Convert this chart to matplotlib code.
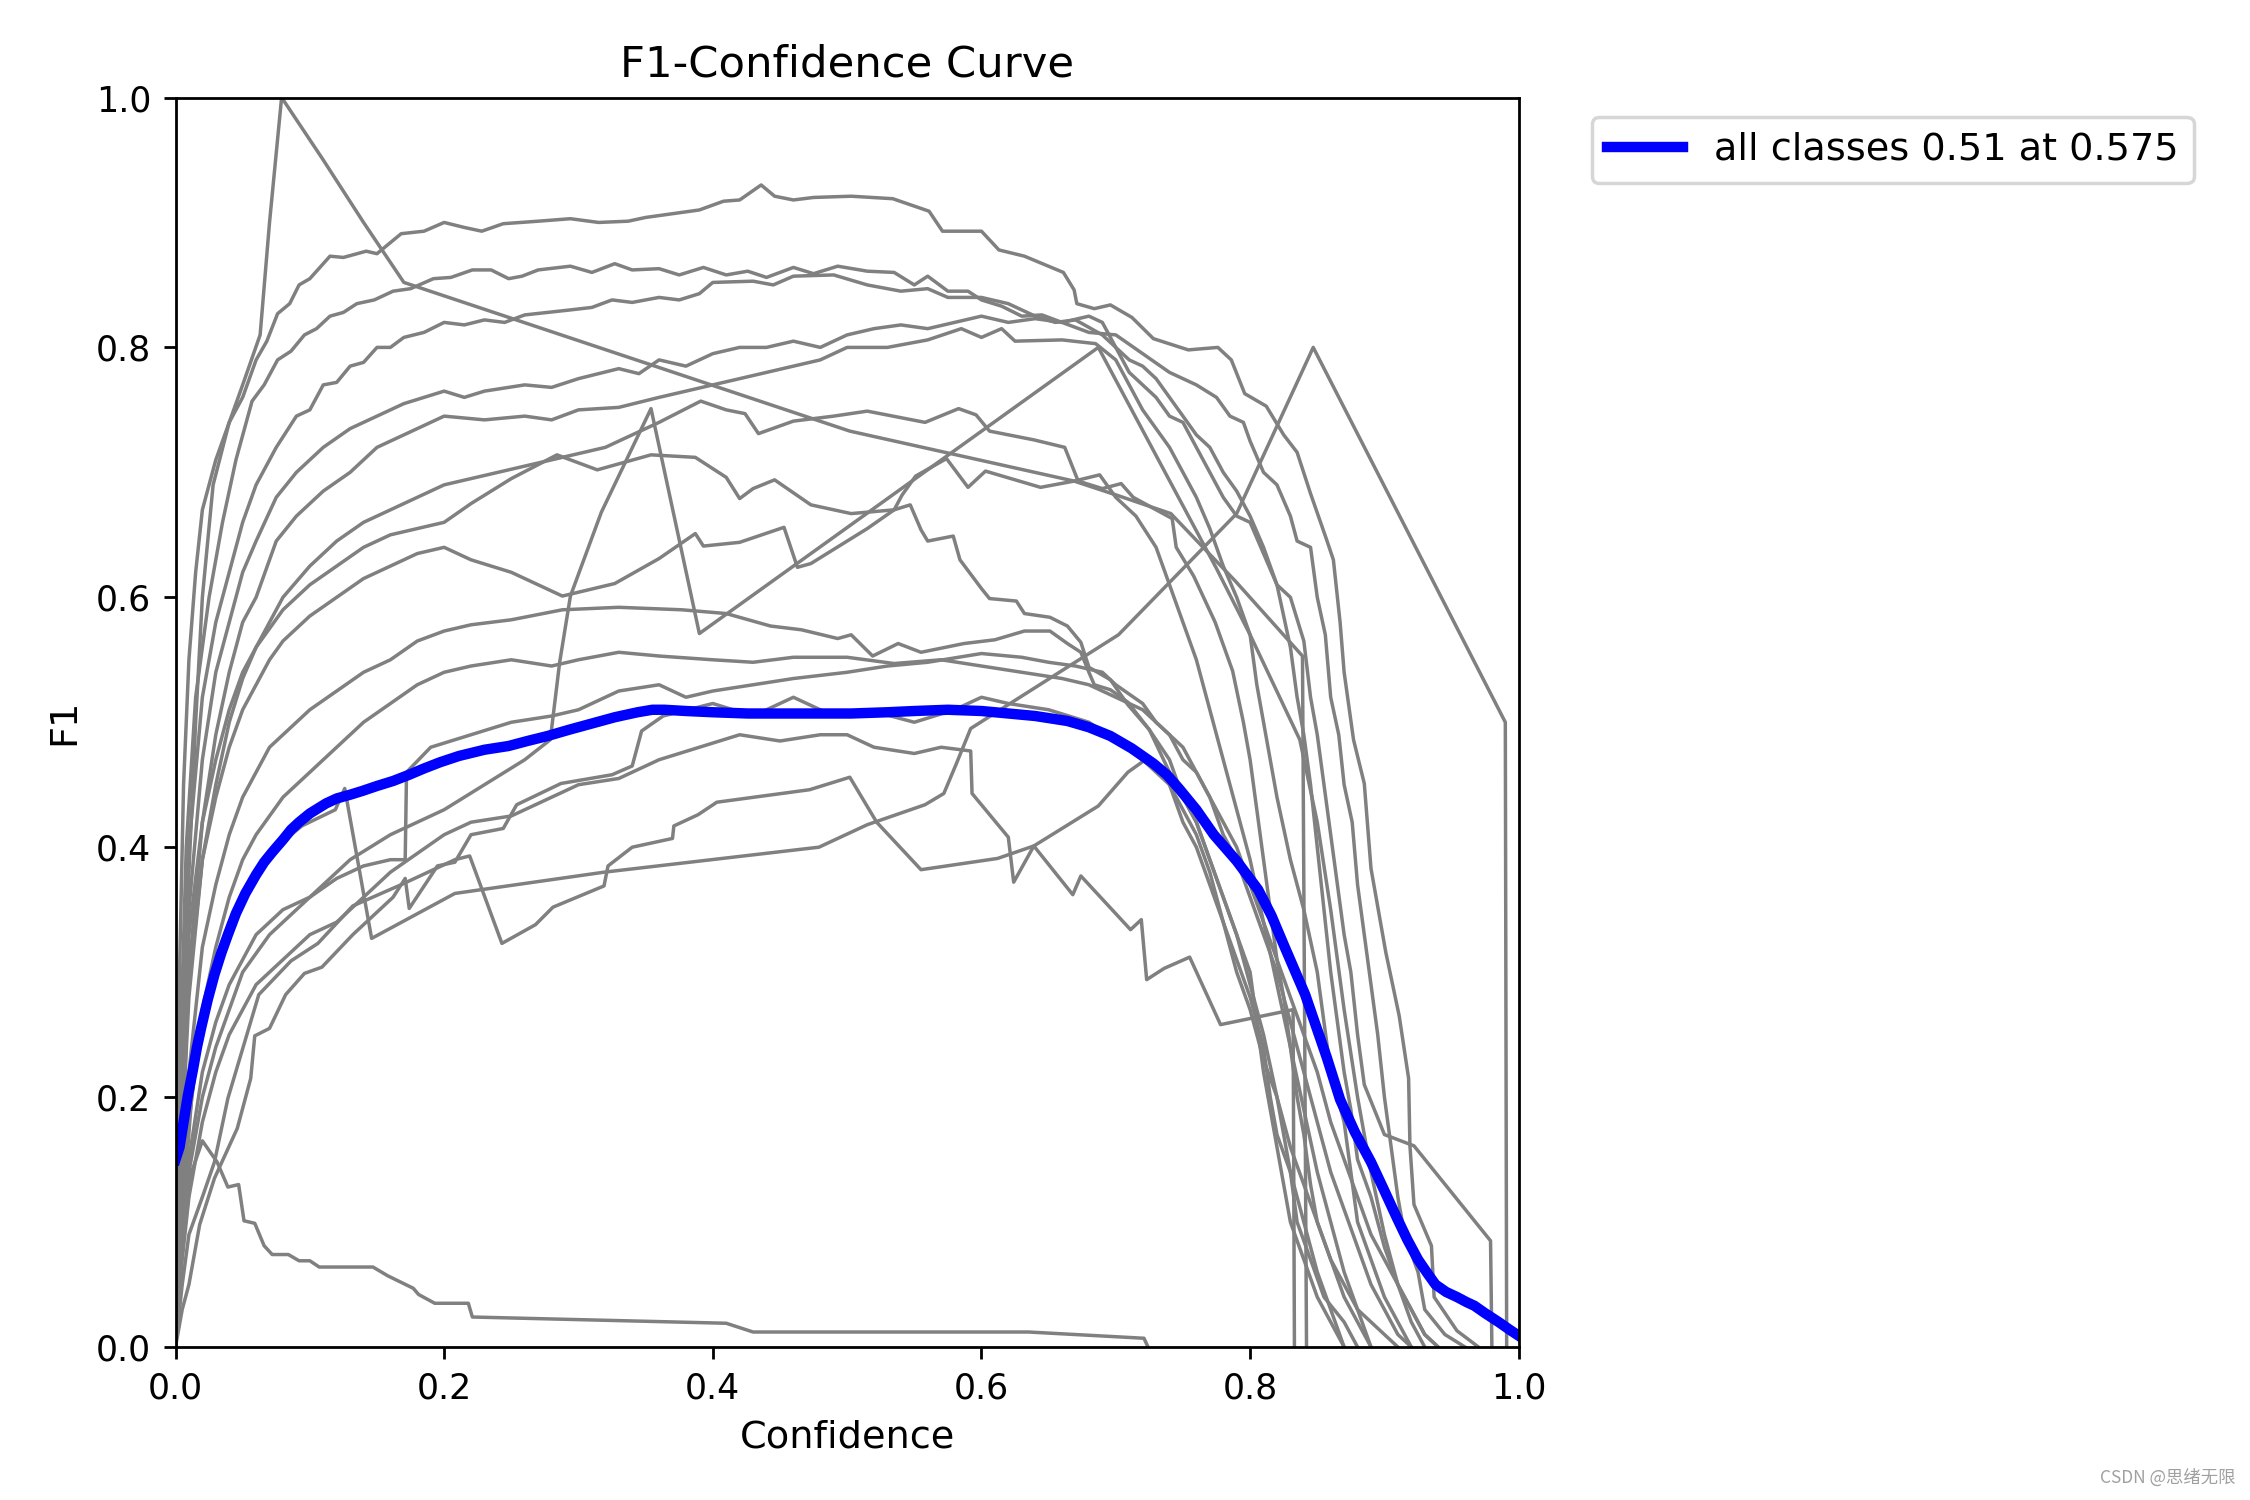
import matplotlib
matplotlib.use("Agg")
import matplotlib.pyplot as plt

# per-class F1 curves, as (confidence, F1) pairs
cls_a = [(0, 0), (0.003, 0.3), (0.006, 0.45), (0.01, 0.55), (0.015, 0.62), (0.02, 0.67), (0.03, 0.71),
         (0.04, 0.74), (0.05, 0.76), (0.06, 0.79), (0.068, 0.805), (0.076, 0.827), (0.085, 0.835),
         (0.092, 0.85), (0.1, 0.855), (0.115, 0.873), (0.125, 0.872), (0.142, 0.877), (0.15, 0.875),
         (0.168, 0.891), (0.185, 0.893), (0.2, 0.9), (0.215, 0.896), (0.228, 0.893), (0.244, 0.899),
         (0.27, 0.901), (0.294, 0.903), (0.315, 0.9), (0.337, 0.901), (0.35, 0.904), (0.37, 0.907),
         (0.39, 0.91), (0.408, 0.917), (0.42, 0.918), (0.436, 0.93), (0.446, 0.921), (0.46, 0.918),
         (0.475, 0.92), (0.503, 0.921), (0.534, 0.919), (0.561, 0.909), (0.571, 0.893), (0.6, 0.893),
         (0.613, 0.878), (0.632, 0.873), (0.661, 0.86), (0.669, 0.846), (0.671, 0.835), (0.684, 0.831),
         (0.696, 0.834), (0.712, 0.824), (0.728, 0.807), (0.754, 0.798), (0.776, 0.8), (0.786, 0.79),
         (0.796, 0.763), (0.812, 0.753), (0.825, 0.73), (0.835, 0.716), (0.845, 0.683), (0.857, 0.646),
         (0.862, 0.63), (0.867, 0.58), (0.87, 0.54), (0.877, 0.486), (0.885, 0.451), (0.89, 0.383),
         (0.901, 0.316), (0.911, 0.265), (0.918, 0.215), (0.919, 0.161), (0.922, 0.114), (0.935, 0.081),
         (0.937, 0.04), (0.954, 0.013), (0.97, 0.0)]
cls_b = [(0, 0), (0.004, 0.25), (0.008, 0.4), (0.015, 0.52), (0.025, 0.6), (0.035, 0.66), (0.045, 0.71),
         (0.057, 0.757), (0.066, 0.77), (0.076, 0.79), (0.086, 0.797), (0.096, 0.81), (0.105, 0.815),
         (0.115, 0.825), (0.125, 0.828), (0.135, 0.835), (0.148, 0.838), (0.162, 0.845), (0.175, 0.847),
         (0.192, 0.855), (0.205, 0.856), (0.221, 0.862), (0.235, 0.862), (0.248, 0.855), (0.258, 0.857),
         (0.27, 0.862), (0.294, 0.865), (0.31, 0.86), (0.327, 0.867), (0.34, 0.862), (0.36, 0.863),
         (0.375, 0.858), (0.393, 0.864), (0.41, 0.858), (0.426, 0.861), (0.44, 0.856), (0.46, 0.864),
         (0.475, 0.859), (0.493, 0.865), (0.515, 0.861), (0.535, 0.86), (0.55, 0.85), (0.56, 0.857),
         (0.575, 0.845), (0.59, 0.845), (0.6, 0.838), (0.615, 0.833), (0.63, 0.825), (0.645, 0.826),
         (0.66, 0.82), (0.68, 0.812), (0.7, 0.81), (0.72, 0.795), (0.74, 0.78), (0.76, 0.77),
         (0.775, 0.76), (0.785, 0.745), (0.795, 0.74), (0.8, 0.725), (0.81, 0.7), (0.82, 0.69),
         (0.83, 0.665), (0.835, 0.645), (0.845, 0.64), (0.85, 0.6), (0.856, 0.57), (0.86, 0.52),
         (0.866, 0.49), (0.87, 0.45), (0.876, 0.42), (0.88, 0.37), (0.885, 0.33), (0.89, 0.29),
         (0.895, 0.25), (0.9, 0.2), (0.905, 0.16), (0.91, 0.12), (0.915, 0.09), (0.925, 0.06),
         (0.93, 0.03), (0.945, 0.01), (0.96, 0)]
cls_c = [(0, 0), (0.004, 0.22), (0.01, 0.4), (0.02, 0.52), (0.03, 0.58), (0.04, 0.62), (0.05, 0.66),
         (0.06, 0.69), (0.075, 0.72), (0.09, 0.745), (0.1, 0.75), (0.11, 0.77), (0.12, 0.772),
         (0.13, 0.785), (0.14, 0.788), (0.15, 0.8), (0.16, 0.8), (0.17, 0.808), (0.185, 0.812),
         (0.2, 0.82), (0.215, 0.818), (0.23, 0.822), (0.245, 0.82), (0.26, 0.826), (0.294, 0.83),
         (0.31, 0.832), (0.325, 0.838), (0.34, 0.836), (0.36, 0.84), (0.375, 0.838), (0.39, 0.843),
         (0.4, 0.852), (0.43, 0.853), (0.445, 0.85), (0.46, 0.857), (0.49, 0.858), (0.515, 0.85),
         (0.54, 0.845), (0.56, 0.847), (0.575, 0.84), (0.6, 0.84), (0.62, 0.835), (0.64, 0.825),
         (0.655, 0.82), (0.67, 0.822), (0.69, 0.81), (0.7, 0.8), (0.71, 0.78), (0.72, 0.77),
         (0.73, 0.76), (0.74, 0.745), (0.75, 0.74), (0.76, 0.72), (0.77, 0.7), (0.78, 0.68),
         (0.79, 0.665), (0.8, 0.66), (0.81, 0.635), (0.82, 0.61), (0.83, 0.6), (0.84, 0.565),
         (0.845, 0.52), (0.85, 0.49), (0.855, 0.45), (0.86, 0.41), (0.865, 0.37), (0.87, 0.33),
         (0.875, 0.3), (0.88, 0.25), (0.885, 0.21), (0.9, 0.17), (0.922, 0.161), (0.979, 0.085),
         (0.98, 0.0)]
cls_d = [(0, 0), (0.004, 0.18), (0.01, 0.35), (0.02, 0.47), (0.03, 0.54), (0.04, 0.58), (0.05, 0.62),
         (0.06, 0.645), (0.075, 0.68), (0.09, 0.7), (0.11, 0.72), (0.13, 0.735), (0.15, 0.745),
         (0.17, 0.755), (0.2, 0.765), (0.215, 0.76), (0.23, 0.765), (0.26, 0.77), (0.28, 0.768),
         (0.3, 0.775), (0.33, 0.783), (0.345, 0.779), (0.36, 0.79), (0.38, 0.785), (0.4, 0.795),
         (0.42, 0.8), (0.44, 0.8), (0.46, 0.805), (0.48, 0.8), (0.5, 0.81), (0.52, 0.815),
         (0.54, 0.818), (0.56, 0.815), (0.58, 0.82), (0.6, 0.825), (0.62, 0.82), (0.64, 0.823),
         (0.66, 0.82), (0.68, 0.825), (0.69, 0.82), (0.7, 0.8), (0.71, 0.79), (0.72, 0.785),
         (0.73, 0.775), (0.74, 0.76), (0.75, 0.745), (0.76, 0.73), (0.77, 0.72), (0.78, 0.7),
         (0.79, 0.685), (0.8, 0.665), (0.81, 0.64), (0.82, 0.61), (0.83, 0.56), (0.835, 0.52),
         (0.84, 0.49), (0.845, 0.45), (0.85, 0.4), (0.855, 0.35), (0.86, 0.3), (0.865, 0.26),
         (0.87, 0.22), (0.875, 0.19), (0.88, 0.15), (0.89, 0.12), (0.9, 0.08), (0.91, 0.05),
         (0.92, 0.03), (0.93, 0.01), (0.94, 0)]
cls_e = [(0, 0), (0.004, 0.14), (0.01, 0.3), (0.02, 0.42), (0.03, 0.49), (0.04, 0.54), (0.05, 0.58),
         (0.06, 0.6), (0.075, 0.645), (0.09, 0.665), (0.11, 0.685), (0.13, 0.7), (0.15, 0.72),
         (0.17, 0.73), (0.2, 0.745), (0.23, 0.742), (0.26, 0.745), (0.28, 0.742), (0.3, 0.75),
         (0.33, 0.752), (0.36, 0.76), (0.38, 0.765), (0.4, 0.77), (0.42, 0.775), (0.44, 0.78),
         (0.46, 0.785), (0.48, 0.79), (0.5, 0.8), (0.53, 0.8), (0.56, 0.806), (0.585, 0.815),
         (0.6, 0.808), (0.615, 0.815), (0.625, 0.805), (0.66, 0.806), (0.685, 0.803), (0.7, 0.79),
         (0.71, 0.77), (0.72, 0.75), (0.73, 0.735), (0.74, 0.72), (0.75, 0.7), (0.76, 0.68),
         (0.77, 0.655), (0.78, 0.625), (0.79, 0.6), (0.8, 0.57), (0.805, 0.53), (0.81, 0.5),
         (0.815, 0.47), (0.82, 0.44), (0.83, 0.39), (0.84, 0.35), (0.85, 0.3), (0.855, 0.26),
         (0.86, 0.22), (0.87, 0.18), (0.875, 0.14), (0.88, 0.1), (0.89, 0.07), (0.9, 0.04),
         (0.91, 0.02), (0.92, 0)]
cls_spike = [(0, 0), (0.005, 0.2), (0.01, 0.38), (0.015, 0.5), (0.02, 0.6), (0.028, 0.69), (0.04, 0.74),
             (0.05, 0.77), (0.063, 0.81), (0.07, 0.9), (0.079, 1.0), (0.11, 0.95), (0.14, 0.9),
             (0.17, 0.852), (0.502, 0.733), (0.669, 0.693), (0.7, 0.682), (0.741, 0.667),
             (0.789, 0.613), (0.839, 0.553), (0.842, 0.0)]
cls_f = [(0, 0), (0.004, 0.15), (0.01, 0.28), (0.02, 0.39), (0.03, 0.45), (0.04, 0.5), (0.05, 0.535),
         (0.06, 0.56), (0.07, 0.58), (0.08, 0.6), (0.1, 0.625), (0.12, 0.645), (0.14, 0.66),
         (0.16, 0.67), (0.18, 0.68), (0.2, 0.69), (0.22, 0.695), (0.24, 0.7), (0.26, 0.705),
         (0.28, 0.71), (0.3, 0.715), (0.32, 0.72), (0.34, 0.73), (0.36, 0.74), (0.391, 0.757),
         (0.41, 0.75), (0.424, 0.747), (0.434, 0.731), (0.46, 0.741), (0.49, 0.745), (0.515, 0.749),
         (0.558, 0.74), (0.583, 0.751), (0.596, 0.746), (0.606, 0.733), (0.639, 0.726),
         (0.662, 0.72), (0.672, 0.693), (0.69, 0.687), (0.704, 0.691), (0.713, 0.68), (0.742, 0.663),
         (0.745, 0.64), (0.758, 0.617), (0.774, 0.58), (0.787, 0.541), (0.795, 0.5), (0.8, 0.47),
         (0.805, 0.43), (0.81, 0.39), (0.815, 0.35), (0.82, 0.31), (0.825, 0.28), (0.83, 0.24),
         (0.835, 0.2), (0.84, 0.17), (0.845, 0.13), (0.85, 0.1), (0.86, 0.07), (0.87, 0.04),
         (0.88, 0.02), (0.89, 0)]
cls_g = [(0, 0), (0.004, 0.2), (0.01, 0.33), (0.02, 0.42), (0.03, 0.47), (0.04, 0.51), (0.05, 0.54),
         (0.06, 0.56), (0.07, 0.575), (0.08, 0.59), (0.1, 0.61), (0.12, 0.625), (0.14, 0.64),
         (0.16, 0.65), (0.18, 0.655), (0.2, 0.66), (0.22, 0.675), (0.25, 0.695), (0.284, 0.714),
         (0.314, 0.702), (0.354, 0.714), (0.387, 0.712), (0.41, 0.696), (0.42, 0.679), (0.43, 0.687),
         (0.446, 0.694), (0.473, 0.674), (0.503, 0.667), (0.535, 0.67), (0.547, 0.674), (0.555, 0.654),
         (0.56, 0.645), (0.579, 0.649), (0.584, 0.63), (0.6, 0.607), (0.606, 0.599), (0.626, 0.597),
         (0.632, 0.587), (0.651, 0.584), (0.664, 0.577), (0.674, 0.564), (0.68, 0.544), (0.696, 0.534),
         (0.709, 0.514), (0.725, 0.494), (0.74, 0.46), (0.76, 0.42), (0.77, 0.39), (0.78, 0.36),
         (0.79, 0.33), (0.8, 0.29), (0.81, 0.25), (0.82, 0.2), (0.825, 0.17), (0.83, 0.14),
         (0.84, 0.1), (0.85, 0.06), (0.86, 0.03), (0.87, 0)]
cls_k = [(0, 0), (0.004, 0.17), (0.01, 0.29), (0.02, 0.39), (0.03, 0.44), (0.04, 0.48), (0.05, 0.51),
         (0.06, 0.53), (0.07, 0.55), (0.08, 0.565), (0.1, 0.585), (0.12, 0.6), (0.14, 0.615),
         (0.16, 0.625), (0.18, 0.635), (0.2, 0.64), (0.22, 0.63), (0.25, 0.62), (0.288, 0.601),
         (0.327, 0.611), (0.36, 0.631), (0.387, 0.651), (0.393, 0.641), (0.42, 0.644), (0.453, 0.656),
         (0.463, 0.624), (0.473, 0.627), (0.515, 0.655), (0.535, 0.67), (0.541, 0.682), (0.551, 0.697),
         (0.574, 0.711), (0.59, 0.688), (0.603, 0.701), (0.644, 0.688), (0.669, 0.693), (0.688, 0.698),
         (0.7, 0.68), (0.715, 0.665), (0.73, 0.64), (0.74, 0.61), (0.75, 0.58), (0.76, 0.55),
         (0.77, 0.51), (0.78, 0.47), (0.79, 0.43), (0.8, 0.39), (0.81, 0.34), (0.82, 0.29),
         (0.83, 0.24), (0.84, 0.19), (0.85, 0.14), (0.86, 0.1), (0.87, 0.06), (0.88, 0.03), (0.89, 0)]
cls_i = [(0, 0), (0.004, 0.12), (0.01, 0.22), (0.02, 0.32), (0.03, 0.37), (0.04, 0.41), (0.05, 0.44),
         (0.06, 0.46), (0.07, 0.48), (0.08, 0.49), (0.1, 0.51), (0.12, 0.525), (0.14, 0.54),
         (0.16, 0.55), (0.18, 0.565), (0.2, 0.573), (0.22, 0.578), (0.25, 0.582), (0.288, 0.59),
         (0.33, 0.592), (0.377, 0.59), (0.41, 0.587), (0.443, 0.577), (0.466, 0.574), (0.493, 0.567),
         (0.503, 0.57), (0.519, 0.553), (0.538, 0.563), (0.555, 0.556), (0.587, 0.563), (0.61, 0.566),
         (0.632, 0.573), (0.651, 0.573), (0.664, 0.563), (0.674, 0.556), (0.68, 0.54), (0.684, 0.53),
         (0.696, 0.526), (0.709, 0.516), (0.725, 0.494), (0.74, 0.47), (0.75, 0.44), (0.76, 0.42),
         (0.77, 0.39), (0.78, 0.36), (0.79, 0.33), (0.8, 0.3), (0.805, 0.26), (0.81, 0.22),
         (0.815, 0.19), (0.82, 0.16), (0.825, 0.13), (0.83, 0.1), (0.84, 0.07), (0.85, 0.04),
         (0.86, 0.02), (0.87, 0)]
cls_j = [(0, 0), (0.004, 0.1), (0.01, 0.18), (0.02, 0.27), (0.03, 0.32), (0.04, 0.36), (0.05, 0.39),
         (0.06, 0.41), (0.08, 0.44), (0.1, 0.46), (0.12, 0.48), (0.14, 0.5), (0.16, 0.515),
         (0.18, 0.53), (0.2, 0.54), (0.22, 0.545), (0.25, 0.55), (0.28, 0.545), (0.3, 0.55),
         (0.33, 0.556), (0.36, 0.553), (0.4, 0.55), (0.43, 0.548), (0.46, 0.552), (0.5, 0.552),
         (0.535, 0.547), (0.57, 0.55), (0.6, 0.545), (0.63, 0.54), (0.66, 0.535), (0.68, 0.53),
         (0.7, 0.52), (0.72, 0.51), (0.74, 0.49), (0.75, 0.47), (0.76, 0.46), (0.77, 0.44),
         (0.78, 0.41), (0.79, 0.39), (0.8, 0.36), (0.81, 0.33), (0.82, 0.3), (0.83, 0.26),
         (0.84, 0.22), (0.85, 0.18), (0.86, 0.14), (0.87, 0.11), (0.88, 0.08), (0.89, 0.05),
         (0.9, 0.03), (0.91, 0.01), (0.92, 0)]
cls_l = [(0, 0), (0.004, 0.08), (0.01, 0.15), (0.02, 0.22), (0.03, 0.26), (0.04, 0.29), (0.05, 0.31),
         (0.06, 0.33), (0.08, 0.35), (0.1, 0.36), (0.12, 0.375), (0.14, 0.385), (0.16, 0.39),
         (0.171, 0.39), (0.172, 0.46), (0.19, 0.48), (0.22, 0.49), (0.25, 0.5), (0.28, 0.505),
         (0.3, 0.51), (0.33, 0.525), (0.36, 0.53), (0.38, 0.52), (0.4, 0.525), (0.43, 0.53),
         (0.46, 0.535), (0.5, 0.54), (0.53, 0.545), (0.56, 0.548), (0.6, 0.555), (0.63, 0.552),
         (0.65, 0.548), (0.67, 0.545), (0.69, 0.54), (0.7, 0.53), (0.72, 0.515), (0.73, 0.5),
         (0.75, 0.48), (0.76, 0.46), (0.77, 0.44), (0.78, 0.42), (0.79, 0.4), (0.8, 0.37),
         (0.81, 0.34), (0.82, 0.31), (0.83, 0.28), (0.84, 0.25), (0.85, 0.22), (0.86, 0.18),
         (0.87, 0.15), (0.88, 0.12), (0.89, 0.09), (0.9, 0.07), (0.91, 0.05), (0.92, 0.03),
         (0.93, 0.01), (0.94, 0)]
cls_r = [(0, 0), (0.005, 0.08), (0.01, 0.14), (0.02, 0.2), (0.03, 0.24), (0.04, 0.27), (0.05, 0.3),
         (0.07, 0.33), (0.1, 0.36), (0.13, 0.39), (0.16, 0.41), (0.2, 0.43), (0.23, 0.45),
         (0.26, 0.47), (0.279, 0.486), (0.286, 0.548), (0.294, 0.601), (0.317, 0.668), (0.354, 0.751),
         (0.39, 0.571), (0.687, 0.8), (0.775, 0.623), (0.8, 0.57), (0.837, 0.486), (0.85, 0.42),
         (0.86, 0.35), (0.87, 0.27), (0.88, 0.2), (0.89, 0.14), (0.9, 0.09), (0.91, 0.05),
         (0.92, 0.02), (0.93, 0)]
cls_q = [(0, 0), (0.005, 0.1), (0.012, 0.2), (0.02, 0.27), (0.03, 0.31), (0.04, 0.34), (0.05, 0.36),
         (0.06, 0.38), (0.075, 0.4), (0.094, 0.417), (0.119, 0.43), (0.126, 0.447), (0.146, 0.327),
         (0.208, 0.363), (0.319, 0.38), (0.479, 0.4), (0.515, 0.418), (0.558, 0.434), (0.572, 0.443),
         (0.581, 0.466), (0.592, 0.495), (0.702, 0.57), (0.79, 0.667), (0.847, 0.8), (0.99, 0.5),
         (0.991, 0.0)]
cls_t = [(0, 0), (0.005, 0.05), (0.01, 0.09), (0.02, 0.12), (0.029, 0.148), (0.039, 0.199), (0.062, 0.282),
         (0.086, 0.309), (0.106, 0.323), (0.132, 0.353), (0.168, 0.37), (0.208, 0.39), (0.219, 0.393),
         (0.243, 0.323), (0.268, 0.338), (0.281, 0.352), (0.319, 0.369), (0.322, 0.385), (0.34, 0.4),
         (0.37, 0.407), (0.371, 0.417), (0.389, 0.426), (0.403, 0.436), (0.472, 0.446), (0.502, 0.456),
         (0.522, 0.42), (0.555, 0.382), (0.612, 0.391), (0.639, 0.401), (0.668, 0.362), (0.674, 0.377),
         (0.711, 0.334), (0.719, 0.342), (0.723, 0.294), (0.736, 0.303), (0.755, 0.312), (0.778, 0.258),
         (0.832, 0.27), (0.833, 0.0)]
cls_o = [(0, 0), (0.005, 0.03), (0.01, 0.05), (0.018, 0.098), (0.029, 0.135), (0.046, 0.175),
         (0.056, 0.215), (0.059, 0.249), (0.07, 0.255), (0.082, 0.282), (0.096, 0.299), (0.109, 0.304),
         (0.132, 0.33), (0.142, 0.34), (0.162, 0.36), (0.171, 0.375), (0.174, 0.351), (0.195, 0.385),
         (0.208, 0.388), (0.22, 0.41), (0.244, 0.415), (0.254, 0.434), (0.287, 0.451), (0.325, 0.458),
         (0.34, 0.465), (0.347, 0.493), (0.363, 0.505), (0.4, 0.515), (0.43, 0.505), (0.46, 0.52),
         (0.49, 0.505), (0.515, 0.51), (0.55, 0.5), (0.58, 0.51), (0.6, 0.52), (0.62, 0.515),
         (0.65, 0.51), (0.68, 0.5), (0.7, 0.485), (0.72, 0.47), (0.74, 0.45), (0.75, 0.42),
         (0.76, 0.4), (0.77, 0.37), (0.78, 0.34), (0.79, 0.3), (0.8, 0.27), (0.81, 0.23),
         (0.82, 0.2), (0.83, 0.16), (0.84, 0.13), (0.85, 0.1), (0.86, 0.07), (0.87, 0.05),
         (0.88, 0.03), (0.9, 0.01), (0.91, 0)]
cls_u = [(0, 0), (0.004, 0.06), (0.01, 0.12), (0.02, 0.18), (0.03, 0.22), (0.04, 0.25), (0.05, 0.27),
         (0.06, 0.29), (0.07, 0.3), (0.08, 0.31), (0.1, 0.33), (0.12, 0.34), (0.14, 0.36),
         (0.16, 0.38), (0.18, 0.395), (0.2, 0.41), (0.22, 0.42), (0.25, 0.425), (0.28, 0.44),
         (0.3, 0.45), (0.33, 0.455), (0.36, 0.47), (0.39, 0.48), (0.42, 0.49), (0.45, 0.485),
         (0.48, 0.49), (0.5, 0.49), (0.52, 0.48), (0.55, 0.475), (0.57, 0.48), (0.592, 0.477),
         (0.593, 0.443), (0.62, 0.408), (0.624, 0.372), (0.639, 0.401), (0.687, 0.433), (0.709, 0.46),
         (0.722, 0.47), (0.735, 0.46), (0.75, 0.43), (0.76, 0.41), (0.77, 0.38), (0.78, 0.34),
         (0.79, 0.31), (0.8, 0.28), (0.81, 0.24), (0.815, 0.2), (0.82, 0.17), (0.83, 0.14),
         (0.835, 0.1), (0.845, 0.07), (0.855, 0.04), (0.87, 0.02), (0.88, 0)]
cls_p = [(0, 0), (0.005, 0.08), (0.012, 0.14), (0.02, 0.165), (0.031, 0.148), (0.039, 0.128),
         (0.047, 0.13), (0.051, 0.101), (0.059, 0.099), (0.066, 0.081), (0.072, 0.074), (0.084, 0.074),
         (0.092, 0.069), (0.1, 0.069), (0.107, 0.064), (0.147, 0.064), (0.158, 0.057), (0.177, 0.047),
         (0.181, 0.042), (0.193, 0.035), (0.218, 0.035), (0.221, 0.024), (0.41, 0.019), (0.43, 0.012),
         (0.635, 0.012), (0.721, 0.007), (0.724, 0.0)]

class_curves = [cls_a, cls_b, cls_c, cls_d, cls_e, cls_spike, cls_f, cls_g, cls_k, cls_i,
                cls_j, cls_l, cls_r, cls_q, cls_t, cls_o, cls_u, cls_p]

# mean F1 over all classes (blue)
all_conf = [0.0, 0.003, 0.006, 0.009, 0.013, 0.016, 0.019, 0.024, 0.029, 0.034, 0.039, 0.045, 0.052,
            0.06, 0.066, 0.072, 0.08, 0.086, 0.092, 0.1, 0.106, 0.112, 0.12, 0.13, 0.139, 0.15, 0.162,
            0.174, 0.185, 0.197, 0.211, 0.23, 0.248, 0.262, 0.277, 0.293, 0.31, 0.327, 0.344, 0.355,
            0.364, 0.38, 0.4, 0.426, 0.45, 0.475, 0.503, 0.53, 0.55, 0.575, 0.6, 0.62, 0.64, 0.664,
            0.68, 0.696, 0.712, 0.728, 0.738, 0.747, 0.76, 0.773, 0.79, 0.806, 0.816, 0.825, 0.833,
            0.841, 0.849, 0.857, 0.867, 0.878, 0.89, 0.9, 0.909, 0.917, 0.925, 0.932, 0.938, 0.946,
            0.954, 0.961, 0.967, 0.975, 0.985, 0.993, 1.0]
all_f1 = [0.15, 0.16, 0.18, 0.2, 0.222, 0.24, 0.255, 0.278, 0.298, 0.315, 0.33, 0.347, 0.363,
          0.378, 0.388, 0.396, 0.406, 0.414, 0.42, 0.427, 0.431, 0.435, 0.439, 0.442, 0.445, 0.449, 0.453,
          0.458, 0.463, 0.468, 0.473, 0.478, 0.481, 0.485, 0.489, 0.494, 0.499, 0.504, 0.508, 0.51,
          0.51, 0.509, 0.508, 0.507, 0.507, 0.507, 0.507, 0.508, 0.509, 0.51, 0.509, 0.507, 0.505, 0.501,
          0.496, 0.489, 0.479, 0.467, 0.458, 0.447, 0.43, 0.41, 0.389, 0.366, 0.345, 0.322, 0.302,
          0.282, 0.257, 0.232, 0.198, 0.172, 0.148, 0.125, 0.104, 0.086, 0.07, 0.059, 0.05, 0.044,
          0.04, 0.036, 0.033, 0.027, 0.02, 0.014, 0.009]
best_f1 = 0.51
best_conf = 0.575

fig = plt.figure(figsize=(9, 6), dpi=250)
ax = fig.add_axes([0.078, 0.102, 0.597, 0.833])

for curve in class_curves:
    xs = [p[0] for p in curve]
    ys = [p[1] for p in curve]
    ax.plot(xs, ys, linewidth=1, color="grey")

ax.plot(all_conf, all_f1, linewidth=3, color="blue",
        label=f"all classes {best_f1:.2f} at {best_conf:.3f}")

ax.set_xlabel("Confidence", fontsize=11)
ax.set_ylabel("F1", fontsize=11)
ax.set_xlim(0, 1)
ax.set_ylim(0, 1)
ax.legend(bbox_to_anchor=(1.04, 1), loc="upper left", fontsize=11)
ax.set_title("F1-Confidence Curve", fontsize=12.5)

fig.text(0.9935, 0.0113, "CSDN @思绪无限", ha="right", va="baseline", fontsize=5,
         color="#a0a0a0", family=["Noto Sans CJK SC", "DejaVu Sans"])

fig.savefig("out.png", dpi=250)
